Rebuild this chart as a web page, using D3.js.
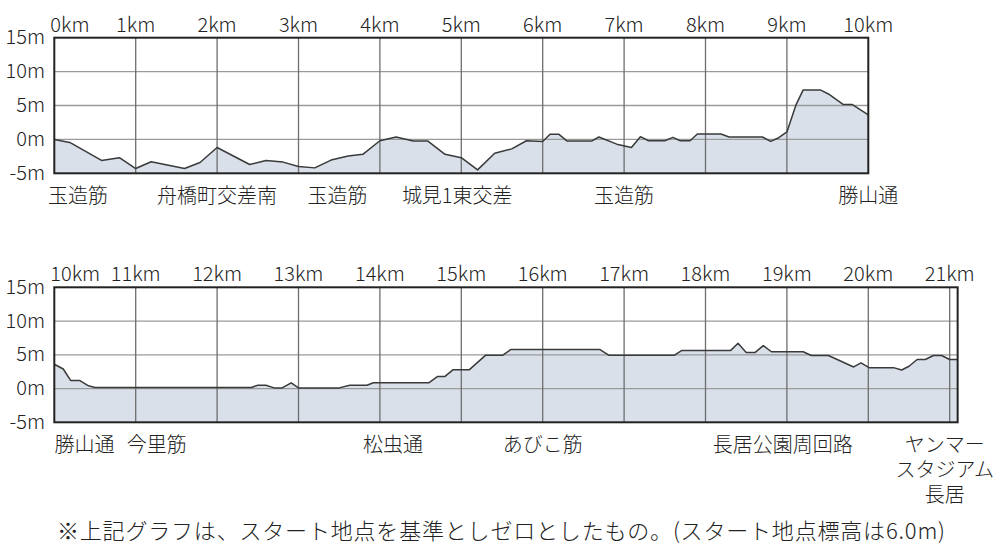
<!DOCTYPE html>
<html><head><meta charset="utf-8">
<script src="https://cdn.jsdelivr.net/npm/d3@7/dist/d3.min.js"></script>
<style>
html,body{margin:0;padding:0;background:#fff;}
svg text{font-family:"Noto Sans CJK JP","Noto Sans",sans-serif;fill:#222;font-weight:300;}
</style>
</head><body>
<svg id="chart" width="1000" height="559"></svg>
<script>
// course distance (km) and elevation relative to start (m)
const distKm = [0,0.19,0.58,0.8,1.0,1.19,1.6,1.79,2.0,2.4,2.6,2.81,3.0,3.2,3.4,3.61,3.79,4.0,4.2,4.41,4.59,4.8,5.0,5.2,5.41,5.62,5.8,6.0,6.09,6.2,6.3,6.6,6.69,6.91,7.09,7.2,7.3,7.5,7.6,7.69,7.81,7.9,8.19,8.29,8.7,8.8,8.9,9.0,9.11,9.2,9.41,9.51,9.69,9.8,
  10.0,10.11,10.2,10.31,10.42,10.5,12.42,12.5,12.6,12.7,12.8,12.91,13.0,13.5,13.63,13.84,13.92,14.6,14.71,14.8,14.9,15.1,15.3,15.51,15.61,16.7,16.81,17.62,17.71,18.31,18.4,18.5,18.61,18.71,18.81,19.2,19.3,19.51,19.82,19.91,20.01,20.31,20.41,20.5,20.6,20.7,20.8,20.9,21.0,21.0975];
const elevM = [0,-0.45,-3.1,-2.7,-4.3,-3.3,-4.3,-3.4,-1.2,-3.7,-3.1,-3.35,-4.0,-4.2,-3.05,-2.45,-2.2,-0.2,0.35,-0.25,-0.25,-2.2,-2.7,-4.5,-2.05,-1.4,-0.2,-0.3,0.75,0.75,-0.25,-0.25,0.35,-0.7,-1.2,0.4,-0.2,-0.2,0.3,-0.2,-0.2,0.8,0.8,0.35,0.35,-0.3,0.25,1.1,5.05,7.3,7.3,6.7,5.15,5.15,
  3.6,2.9,1.2,1.2,0.4,0.15,0.15,0.5,0.5,0.1,0.1,0.85,0.1,0.1,0.5,0.5,0.85,0.85,1.8,1.8,2.8,2.8,4.95,4.95,5.8,5.8,4.95,4.95,5.65,5.65,6.7,5.35,5.35,6.35,5.45,5.45,4.9,4.9,3.2,3.8,3.1,3.1,2.75,3.3,4.3,4.3,4.9,4.9,4.3,4.3];

const yTicks = [-5,0,5,10,15];
const topKmTicks = [0,1,2,3,4,5,6,7,8,9,10];
const botKmTicks = [10,11,12,13,14,15,16,17,18,19,20,21];

const topPlaceNames = ["玉造筋","舟橋町交差南","玉造筋","城見1東交差","玉造筋","勝山通"];
const topPlaceKm    = [0.29,2.0,3.48,4.95,7.0,10.0];
const botPlaceNames = [["勝山通"],["今里筋"],["松虫通"],["あびこ筋"],["長居公園周回路"],["ヤンマー","スタジアム","長居"]];
const botPlaceKm    = [10.37,11.26,14.16,16.0,18.95,20.94];

const footnote = "※上記グラフは、スタート地点を基準としゼロとしたもの。(スタート地点標高は6.0m)";

const svg = d3.select("#chart");
const pxPerKm = 81.4;
const left = 54.3;

function panel(opt){
  const {kmStart, kmEnd, top, bottom, ticks, names, namesKm} = opt;
  const x = d3.scaleLinear().domain([kmStart, kmEnd]).range([left, left + (kmEnd-kmStart)*pxPerKm]);
  const y = d3.scaleLinear().domain([-5,15]).range([bottom, top]);
  const g = svg.append("g");
  const pts = distKm.map((d,i)=>({d, e: elevM[i]})).filter(p => p.d >= kmStart - 1e-9 && p.d <= kmEnd + 1e-9);

  g.append("path").datum(pts)
    .attr("d", d3.area().x(p=>x(p.d)).y0(y(-5)).y1(p=>y(p.e)))
    .attr("fill","#d9e0ea");

  g.selectAll(".hg").data(yTicks.filter(v=>v>-5 && v<15)).join("line")
    .attr("x1", x(kmStart)).attr("x2", x(kmEnd))
    .attr("y1", d=>y(d)).attr("y2", d=>y(d))
    .attr("stroke","#9a9a9a").attr("stroke-width",1.3);
  g.selectAll(".vg").data(ticks.filter(v=>v>kmStart && v<kmEnd)).join("line")
    .attr("x1", d=>x(d)).attr("x2", d=>x(d))
    .attr("y1", y(15)).attr("y2", y(-5))
    .attr("stroke","#6e6e6e").attr("stroke-width",1.3);

  g.append("path").datum(pts)
    .attr("d", d3.line().x(p=>x(p.d)).y(p=>y(p.e)))
    .attr("fill","none").attr("stroke","#3a3a3a").attr("stroke-width",1.5).attr("stroke-linejoin","round");

  g.append("rect").attr("x", x(kmStart)).attr("y", y(15))
    .attr("width", x(kmEnd)-x(kmStart)).attr("height", y(-5)-y(15))
    .attr("fill","none").attr("stroke","#222").attr("stroke-width",2);

  g.selectAll(".yl").data(yTicks).join("text")
    .attr("x", 45).attr("y", d=>y(d)).attr("dy","0.33em")
    .attr("text-anchor","end").attr("font-size",20)
    .text(d=>d+"m");

  g.selectAll(".xl").data(ticks).join("text")
    .attr("x", (d,i)=> i===0 ? x(d)-4 : x(d))
    .attr("y", y(15)-6)
    .attr("text-anchor",(d,i)=> i===0 ? "start" : "middle")
    .attr("font-size",20)
    .text(d=>d+"km");

  names.forEach((nm,i)=>{
    const lines = Array.isArray(nm) ? nm : [nm];
    lines.forEach((ln,j)=>{
      g.append("text").attr("text-anchor","middle").attr("font-size",20)
        .attr("x", x(namesKm[i])).attr("y", y(-5)+29.5+j*25).text(ln);
    });
  });
}

panel({kmStart:0, kmEnd:10, top:37.7, bottom:173.3, ticks:topKmTicks, names:topPlaceNames, namesKm:topPlaceKm});
panel({kmStart:10, kmEnd:21.0975, top:287.3, bottom:422.3, ticks:botKmTicks, names:botPlaceNames, namesKm:botPlaceKm});

svg.append("text").attr("x",501).attr("y",539).attr("text-anchor","middle")
  .attr("font-size",22).attr("textLength",888).attr("lengthAdjust","spacing").text(footnote);
</script>
</body></html>
